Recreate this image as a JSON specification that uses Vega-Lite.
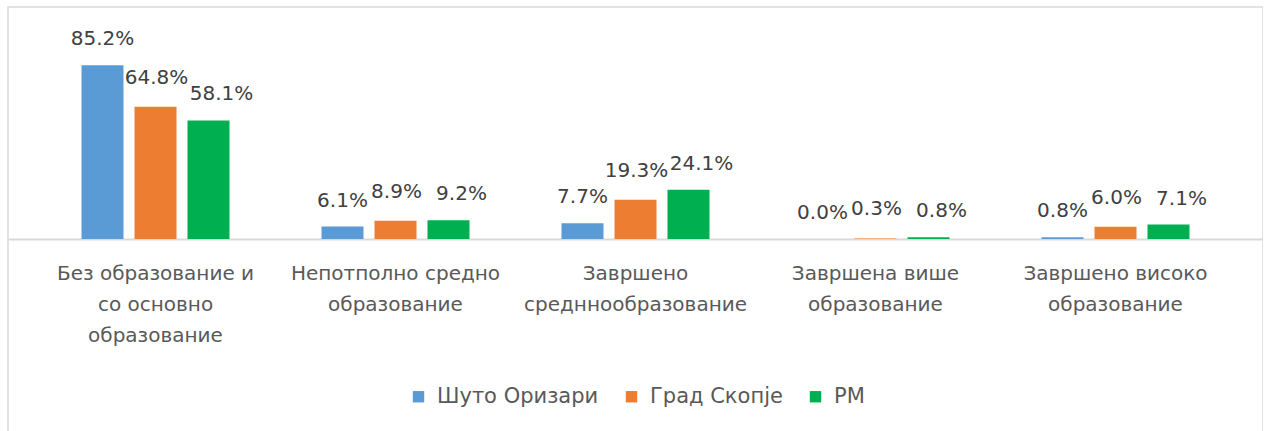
{
  "$schema": "https://vega.github.io/schema/vega-lite/v6.json",
  "width": 1255,
  "height": 430,
  "padding": {"left": 8, "top": 7, "right": 0, "bottom": 0},
  "autosize": {"type": "none"},
  "background": "white",
  "config": {
    "font": "DejaVu Sans",
    "view": {"stroke": "#D9D9D9", "strokeWidth": 1.5}
  },
  "data": {
    "values": [
      {"cat": "Без образование и|со основно|образование", "series": "Шуто Оризари", "value": 0.852},
      {"cat": "Без образование и|со основно|образование", "series": "Град Скопје", "value": 0.648},
      {"cat": "Без образование и|со основно|образование", "series": "РМ", "value": 0.581},
      {"cat": "Непотполно средно|образование", "series": "Шуто Оризари", "value": 0.061},
      {"cat": "Непотполно средно|образование", "series": "Град Скопје", "value": 0.089},
      {"cat": "Непотполно средно|образование", "series": "РМ", "value": 0.092},
      {"cat": "Завршено|средннообразование", "series": "Шуто Оризари", "value": 0.077},
      {"cat": "Завршено|средннообразование", "series": "Град Скопје", "value": 0.193},
      {"cat": "Завршено|средннообразование", "series": "РМ", "value": 0.241},
      {"cat": "Завршена више|образование", "series": "Шуто Оризари", "value": 0.0},
      {"cat": "Завршена више|образование", "series": "Град Скопје", "value": 0.003},
      {"cat": "Завршена више|образование", "series": "РМ", "value": 0.008},
      {"cat": "Завршено високо|образование", "series": "Шуто Оризари", "value": 0.008},
      {"cat": "Завршено високо|образование", "series": "Град Скопје", "value": 0.06},
      {"cat": "Завршено високо|образование", "series": "РМ", "value": 0.071}
    ]
  },
  "encoding": {
    "x": {
      "field": "cat", "type": "nominal", "sort": null,
      "scale": {"paddingInner": 0, "paddingOuter": 0.1146},
      "axis": {
        "title": null, "orient": "bottom", "offset": -198,
        "labelAngle": 0, "ticks": false,
        "domainColor": "#D9D9D9", "domainWidth": 2,
        "labelExpr": "split(datum.label, '|')",
        "labelFontSize": 20, "labelColor": "#595959",
        "labelPadding": 34, "labelLineHeight": 31, "labelLimit": 0,
        "labelBaseline": "middle"
      }
    },
    "xOffset": {"field": "series", "type": "nominal", "sort": ["Шуто Оризари", "Град Скопје", "РМ"],
      "scale": {"domain": ["Шуто Оризари", "Град Скопје", "РМ"], "paddingInner": 0.2075, "paddingOuter": 0.868}},
    "y": {
      "field": "value", "type": "quantitative",
      "scale": {"domain": [-0.9706, 1.1373], "nice": false, "zero": false},
      "axis": null
    }
  },
  "layer": [
    {
      "mark": {"type": "bar"},
      "encoding": {
        "y2": {"datum": 0},
        "color": {
          "field": "series", "type": "nominal",
          "sort": ["Шуто Оризари", "Град Скопје", "РМ"],
          "scale": {"domain": ["Шуто Оризари", "Град Скопје", "РМ"], "range": ["#5B9BD5", "#ED7D31", "#00B050"]},
          "legend": {
            "title": null, "orient": "none", "direction": "horizontal",
            "legendX": 400, "legendY": 379,
            "symbolType": "square", "symbolSize": 130, "symbolStrokeWidth": 0,
            "labelFontSize": 21, "labelColor": "#595959", "labelOffset": 8,
            "labelLimit": 0, "columnPadding": 22
          }
        }
      }
    },
    {
      "transform": [{"filter": "datum.series === 'Шуто Оризари'"}],
      "mark": {"type": "text", "baseline": "middle", "dy": -26, "fontSize": 20, "color": "#404040"},
      "encoding": {
        "text": {"field": "value", "type": "quantitative", "format": ".1%"}
      }
    },
    {
      "transform": [{"filter": "datum.series === 'Град Скопје'"}],
      "mark": {"type": "text", "baseline": "middle", "dy": -29, "dx": 1, "fontSize": 20, "color": "#404040"},
      "encoding": {
        "text": {"field": "value", "type": "quantitative", "format": ".1%"}
      }
    },
    {
      "transform": [{"filter": "datum.series === 'РМ'"}],
      "mark": {"type": "text", "baseline": "middle", "dy": -26, "dx": 13, "fontSize": 20, "color": "#404040"},
      "encoding": {
        "text": {"field": "value", "type": "quantitative", "format": ".1%"}
      }
    }
  ]
}
